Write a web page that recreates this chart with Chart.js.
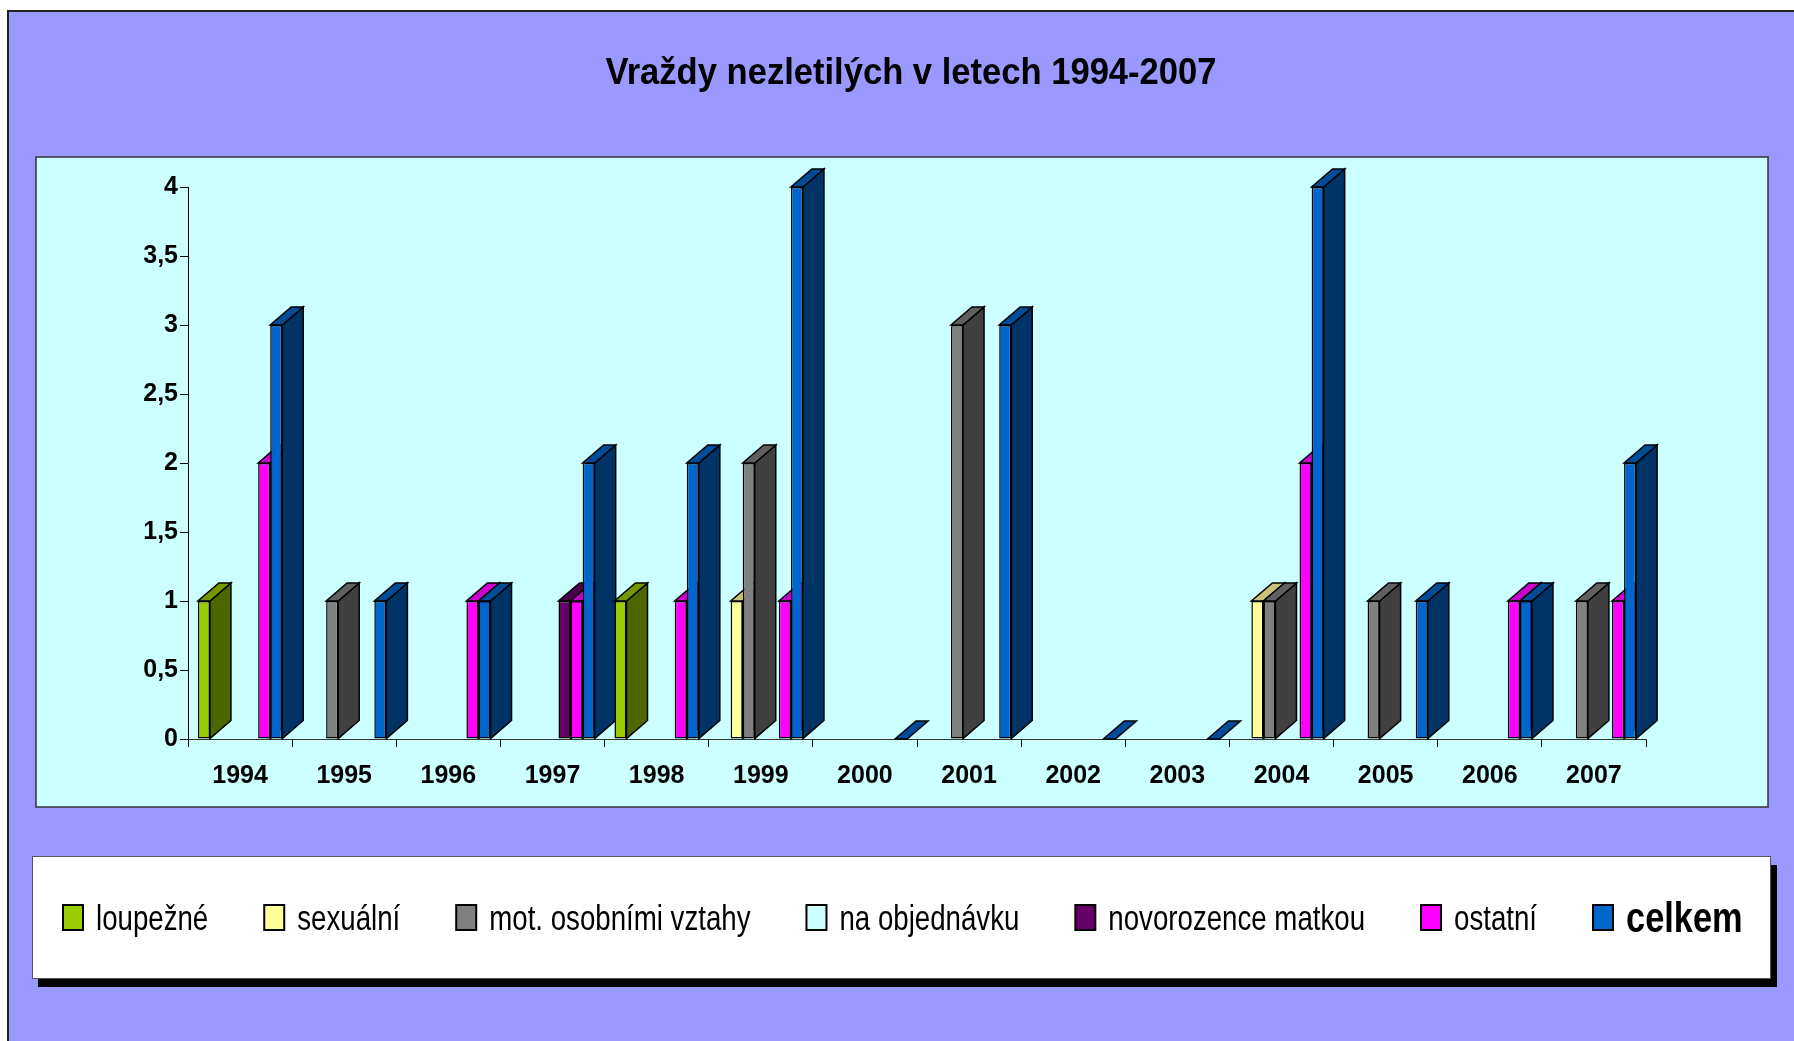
<!DOCTYPE html>
<html>
<head>
<meta charset="utf-8">
<script src="https://cdn.jsdelivr.net/npm/chart.js@4.4.1/dist/chart.umd.min.js"></script>
<style>
  html, body { margin: 0; padding: 0; background: #fff; }
  canvas { display: block; }
</style>
</head>
<body>
<canvas id="c" width="1794" height="1041"></canvas>
<script>
const TITLE = 'Vraždy nezletilých v letech 1994-2007';
const YEARS = ['1994', '1995', '1996', '1997', '1998', '1999', '2000',
               '2001', '2002', '2003', '2004', '2005', '2006', '2007'];

const LOUPEZNE    = [1, null, null, null, 1, null, null, null, null, null, null, null, null, null];
const SEXUALNI    = [null, null, null, null, null, 1, null, null, null, null, 1, null, null, null];
const OSOBNI      = [null, 1, null, null, null, 2, null, 3, null, null, 1, 1, null, 1];
const OBJEDNAVKA  = [null, null, null, null, null, null, null, null, null, null, null, null, null, null];
const NOVOROZENCE = [null, null, null, 1, null, null, null, null, null, null, null, null, null, null];
const OSTATNI     = [2, null, 1, 1, 1, 1, null, null, null, null, 2, null, 1, 1];
const CELKEM      = [3, 1, 1, 2, 2, 4, 0, 3, 0, 0, 4, 1, 1, 2];

const LABELS = ['loupežné', 'sexuální', 'mot. osobními vztahy', 'na objednávku',
                'novorozence matkou', 'ostatní', 'celkem'];
const SERIES_DATA = [LOUPEZNE, SEXUALNI, OSOBNI, OBJEDNAVKA, NOVOROZENCE, OSTATNI, CELKEM];

// front / right side / top face of each 3D column
const FRONT = ['#99CC00', '#FFFF99', '#808080', '#CCFFFF', '#660066', '#FF00FF', '#0066CC'];
const SIDE  = ['#4C6600', '#80804C', '#404040', '#668080', '#330033', '#800080', '#003366'];
const TOP   = ['#739900', '#C8C27A', '#606060', '#99BFBF', '#4C004C', '#CC00CC', '#004C99'];

const SANS = "'Liberation Sans', Arial, sans-serif";
const DX = 21, DY = 18; // depth offset of the 3D columns

function poly(ctx, pts, fill) {
  ctx.beginPath();
  ctx.moveTo(pts[0][0], pts[0][1]);
  for (let i = 1; i < pts.length; i++) ctx.lineTo(pts[i][0], pts[i][1]);
  ctx.closePath();
  ctx.fillStyle = fill;
  ctx.fill();
  ctx.stroke();
}

// text squeezed horizontally like the narrow face of the original
function narrowText(ctx, text, x, y, sx) {
  ctx.save();
  ctx.translate(x, y);
  ctx.scale(sx, 1);
  ctx.fillText(text, 0, 0);
  ctx.restore();
}

// purple frame + cyan plot box behind everything
const backdropPlugin = {
  id: 'backdrop',
  beforeDraw(chart) {
    const ctx = chart.ctx;
    ctx.save();
    ctx.fillStyle = '#fff';
    ctx.fillRect(0, 0, chart.width, chart.height);
    ctx.fillStyle = '#9999FF';
    ctx.fillRect(8, 11, chart.width, chart.height);
    ctx.strokeStyle = '#222';
    ctx.lineWidth = 2;
    ctx.beginPath();
    ctx.moveTo(8, chart.height);
    ctx.lineTo(8, 11);
    ctx.lineTo(chart.width, 11);
    ctx.stroke();
    ctx.fillStyle = '#CCFFFF';
    ctx.fillRect(36, 157, 1732, 650);
    ctx.lineWidth = 1.5;
    ctx.strokeStyle = '#333';
    ctx.strokeRect(36, 157, 1732, 650);

    // title
    ctx.font = `bold 37px ${SANS}`;
    ctx.fillStyle = '#000';
    ctx.textBaseline = 'alphabetic';
    ctx.textAlign = 'left';
    const w = ctx.measureText(TITLE).width;
    const sx = 611 / w;
    narrowText(ctx, TITLE, 911 - 611 / 2, 84, sx);
    ctx.restore();
  },
};

// sides and tops of the columns, painted left to right; fronts come from Chart.js
const depthPlugin = {
  id: 'depth',
  beforeDatasetsDraw(chart) {
    const ctx = chart.ctx;
    ctx.save();
    ctx.lineWidth = 1.5;
    ctx.strokeStyle = '#000';
    ctx.lineJoin = 'miter';
    const n = chart.data.labels.length;
    for (let i = 0; i < n; i++) {
      chart.data.datasets.forEach((ds, d) => {
        const v = ds.data[i];
        if (v === null || v === undefined) return;
        const el = chart.getDatasetMeta(d).data[i];
        const { x, y, base, width } = el.getProps(['x', 'y', 'base', 'width'], true);
        const l = x - width / 2, r = x + width / 2, t = Math.min(y, base);
        if (base - t > 0.5) {
          poly(ctx, [[r, t], [r + DX, t - DY], [r + DX, base - DY], [r, base]], SIDE[d]);
        }
        poly(ctx, [[l, t], [r, t], [r + DX, t - DY], [l + DX, t - DY]], TOP[d]);
      });
    }
    ctx.restore();
  },
};

// boxed legend with drop shadow, drawn under the plot
const legendPlugin = {
  id: 'boxLegend',
  afterDraw(chart) {
    const ctx = chart.ctx;
    ctx.save();
    ctx.fillStyle = '#000';
    ctx.fillRect(38, 865, 1739, 122);
    ctx.fillStyle = '#fff';
    ctx.fillRect(32, 856, 1738, 122);
    ctx.strokeStyle = '#555';
    ctx.lineWidth = 1;
    ctx.strokeRect(32.5, 856.5, 1738, 122);

    let x = 63;
    const cy = 917;
    ctx.textBaseline = 'alphabetic';
    ctx.textAlign = 'left';
    const n = chart.data.datasets.length;
    chart.data.datasets.forEach((ds, d) => {
      ctx.fillStyle = FRONT[d];
      ctx.fillRect(x, cy - 12, 20, 25);
      ctx.strokeStyle = '#000';
      ctx.lineWidth = 2;
      ctx.strokeRect(x, cy - 12, 20, 25);
      const last = d === n - 1;
      ctx.font = last ? `bold 43px ${SANS}` : `35px ${SANS}`;
      const sx = last ? 0.8 : 0.79;
      ctx.fillStyle = '#000';
      narrowText(ctx, ds.label, x + 33, last ? 932 : 930, sx);
      x += 33 + ctx.measureText(ds.label).width * sx + 56;
    });
    ctx.restore();
  },
};

new Chart(document.getElementById('c'), {
  type: 'bar',
  data: {
    labels: YEARS,
    datasets: SERIES_DATA.map((data, d) => ({
      label: LABELS[d],
      data,
      backgroundColor: FRONT[d],
      borderColor: '#000',
      borderWidth: 1.5,
      borderSkipped: false,
      barPercentage: 1.0,
      categoryPercentage: 0.81,
    })),
  },
  options: {
    responsive: false,
    devicePixelRatio: 1,
    animation: false,
    layout: { padding: { left: 0, top: 187, right: 148, bottom: 242 } },
    plugins: {
      legend: { display: false },
      tooltip: { enabled: false },
      title: { display: false },
    },
    scales: {
      x: {
        afterFit: s => { s.height = 60; },
        grid: { offset: true, drawOnChartArea: false, drawTicks: true, tickLength: 8, color: '#000' },
        border: { display: true, color: '#333', width: 1 },
        ticks: { color: '#000', padding: 14, font: { family: SANS, size: 25, weight: 'bold' } },
      },
      y: {
        min: 0,
        max: 4,
        afterFit: s => { s.width = 188; },
        grid: { drawOnChartArea: false, drawTicks: true, tickLength: 8, color: '#000' },
        border: { display: true, color: '#000', width: 1 },
        ticks: {
          stepSize: 0.5,
          color: '#000',
          padding: 2,
          font: { family: SANS, size: 25, weight: 'bold' },
          callback: v => String(v).replace('.', ','),
        },
      },
    },
  },
  plugins: [backdropPlugin, depthPlugin, legendPlugin],
});
</script>
</body>
</html>
